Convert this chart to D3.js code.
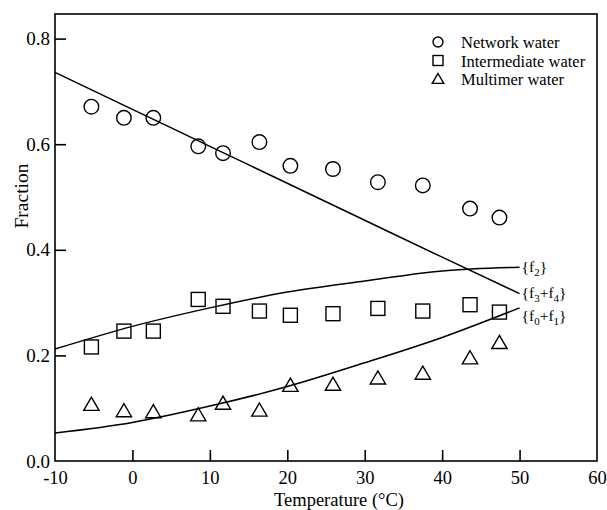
<!DOCTYPE html>
<html><head><meta charset="utf-8">
<script src="https://cdn.jsdelivr.net/npm/d3@7"></script>
<style>body{margin:0;background:#fff}svg{display:block}</style>
</head><body><svg id="c" width="607" height="510"></svg>
<script>
// ---- data ----
const temps = [-5.3, -1.1, 2.7, 8.5, 11.7, 16.4, 20.4, 25.9, 31.7, 37.5, 43.6, 47.4];
const networkWater = [0.671, 0.650, 0.650, 0.596, 0.583, 0.604, 0.559, 0.553, 0.528, 0.522, 0.478, 0.461];
const intermediateWater = [0.216, 0.246, 0.246, 0.306, 0.293, 0.284, 0.276, 0.279, 0.289, 0.284, 0.296, 0.282];
const multimerWater = [0.107, 0.095, 0.093, 0.087, 0.109, 0.096, 0.143, 0.145, 0.157, 0.166, 0.195, 0.224];

const curveT = [-10, 0, 10, 20, 30, 40, 50];
const f2 = [0.212, 0.255, 0.290, 0.320, 0.341, 0.360, 0.367];
const f3f4 = [0.736, 0.666, 0.596, 0.526, 0.456, 0.386, 0.317];
const f0f1 = [0.053, 0.073, 0.104, 0.141, 0.186, 0.234, 0.290];

const xTicks = [-10, 0, 10, 20, 30, 40, 50, 60];
const yTicks = [0.0, 0.2, 0.4, 0.6, 0.8];
const legendLabels = ["Network water", "Intermediate water", "Multimer water"];

// ---- layout ----
const svg = d3.select("#c");
const L = 55, R = 597, T = 14, B = 461;
const x = d3.scaleLinear().domain([-10, 60]).range([L, R]);
const y = d3.scaleLinear().domain([0, 0.8]).range([B, B - 4 * 105.6]);
const font = "'Liberation Serif','Times New Roman',serif";

// frame
svg.append("rect").attr("x", L).attr("y", T).attr("width", R - L).attr("height", B - T)
  .attr("fill", "none").attr("stroke", "#000").attr("stroke-width", 1.6);

// axes
const xAxis = d3.axisBottom(x).tickValues(xTicks).tickFormat(d => String(d)).tickSize(-11).tickPadding(10);
const gx = svg.append("g").attr("transform", `translate(0,${B})`).call(xAxis);
gx.select(".domain").remove();
gx.selectAll(".tick line").attr("stroke-width", 1.6);
gx.selectAll(".tick text").attr("font-family", font).attr("font-size", 18.5).attr("fill", "#000");
gx.selectAll(".tick").filter(d => d === -10 || d === 60).select("line").remove();

const yAxis = d3.axisLeft(y).tickValues(yTicks).tickFormat(d3.format(".1f")).tickSize(-11).tickPadding(5);
const gy = svg.append("g").attr("transform", `translate(${L},0)`).call(yAxis);
gy.select(".domain").remove();
gy.selectAll(".tick line").attr("stroke-width", 1.6);
gy.selectAll(".tick text").attr("font-family", font).attr("font-size", 19).attr("fill", "#000");
gy.selectAll(".tick").filter(d => d === 0).select("line").remove();

svg.append("text").attr("x", 339).attr("y", 505.5).attr("text-anchor", "middle")
  .attr("font-family", font).attr("font-size", 18.5).attr("fill", "#000").text("Temperature (°C)");
svg.append("text").attr("transform", "translate(28,196) rotate(-90)").attr("text-anchor", "middle")
  .attr("font-family", font).attr("font-size", 19.5).attr("fill", "#000").text("Fraction");

// curves
const line = d3.line().x(d => x(d[0])).y(d => y(d[1])).curve(d3.curveMonotoneX);
const curves = [
  {v: f2, label: [["{f", 0], ["2", 1], ["}", 0]], dy: 0},
  {v: f3f4, label: [["{f", 0], ["3", 1], ["+f", 0], ["4", 1], ["}", 0]], dy: -1},
  {v: f0f1, label: [["{f", 0], ["0", 1], ["+f", 0], ["1", 1], ["}", 0]], dy: 8}
];
curves.forEach(c => {
  const pts = curveT.map((t, i) => [t, c.v[i]]);
  svg.append("path").attr("d", line(pts)).attr("fill", "none").attr("stroke", "#000").attr("stroke-width", 1.5);
  const t = svg.append("text").attr("x", x(50) + 2).attr("y", y(c.v[c.v.length - 1]) + c.dy + 5)
    .attr("font-family", font).attr("font-size", 15.5).attr("fill", "#000");
  let prevSub = 0;
  c.label.forEach(([s, sub]) => {
    const ts = t.append("tspan").text(s);
    if (sub) { ts.attr("font-size", 11).attr("dy", 4); }
    else if (prevSub) { ts.attr("dy", -4); }
    prevSub = sub;
  });
});

// markers
const sym = {
  circle: (g, cx, cy, s) => g.append("circle").attr("cx", cx).attr("cy", cy).attr("r", s),
  square: (g, cx, cy, s) => g.append("rect").attr("x", cx - s).attr("y", cy - s).attr("width", 2 * s).attr("height", 2 * s),
  triangle: (g, cx, cy, s) => g.append("path").attr("d", `M${cx},${cy - s * 1.0}L${cx + s * 1.05},${cy + s * 0.8}L${cx - s * 1.05},${cy + s * 0.8}Z`)
};
const series = [
  {v: networkWater, s: "circle", size: 7.3},
  {v: intermediateWater, s: "square", size: 7},
  {v: multimerWater, s: "triangle", size: 7.3}
];
const gm = svg.append("g").attr("fill", "none").attr("stroke", "#000").attr("stroke-width", 1.4);
series.forEach(se => se.v.forEach((v, i) => sym[se.s](gm, x(temps[i]), y(v), se.size)));

// legend
series.forEach((se, i) => {
  const cy = 42 + i * 18.5;
  sym[se.s](gm, 438, cy, se.s === "triangle" ? 5.5 : 5);
  svg.append("text").attr("x", 461).attr("y", cy + 6).attr("font-family", font).attr("font-size", 16.5)
    .attr("fill", "#000").text(legendLabels[i]);
});
</script></body></html>
